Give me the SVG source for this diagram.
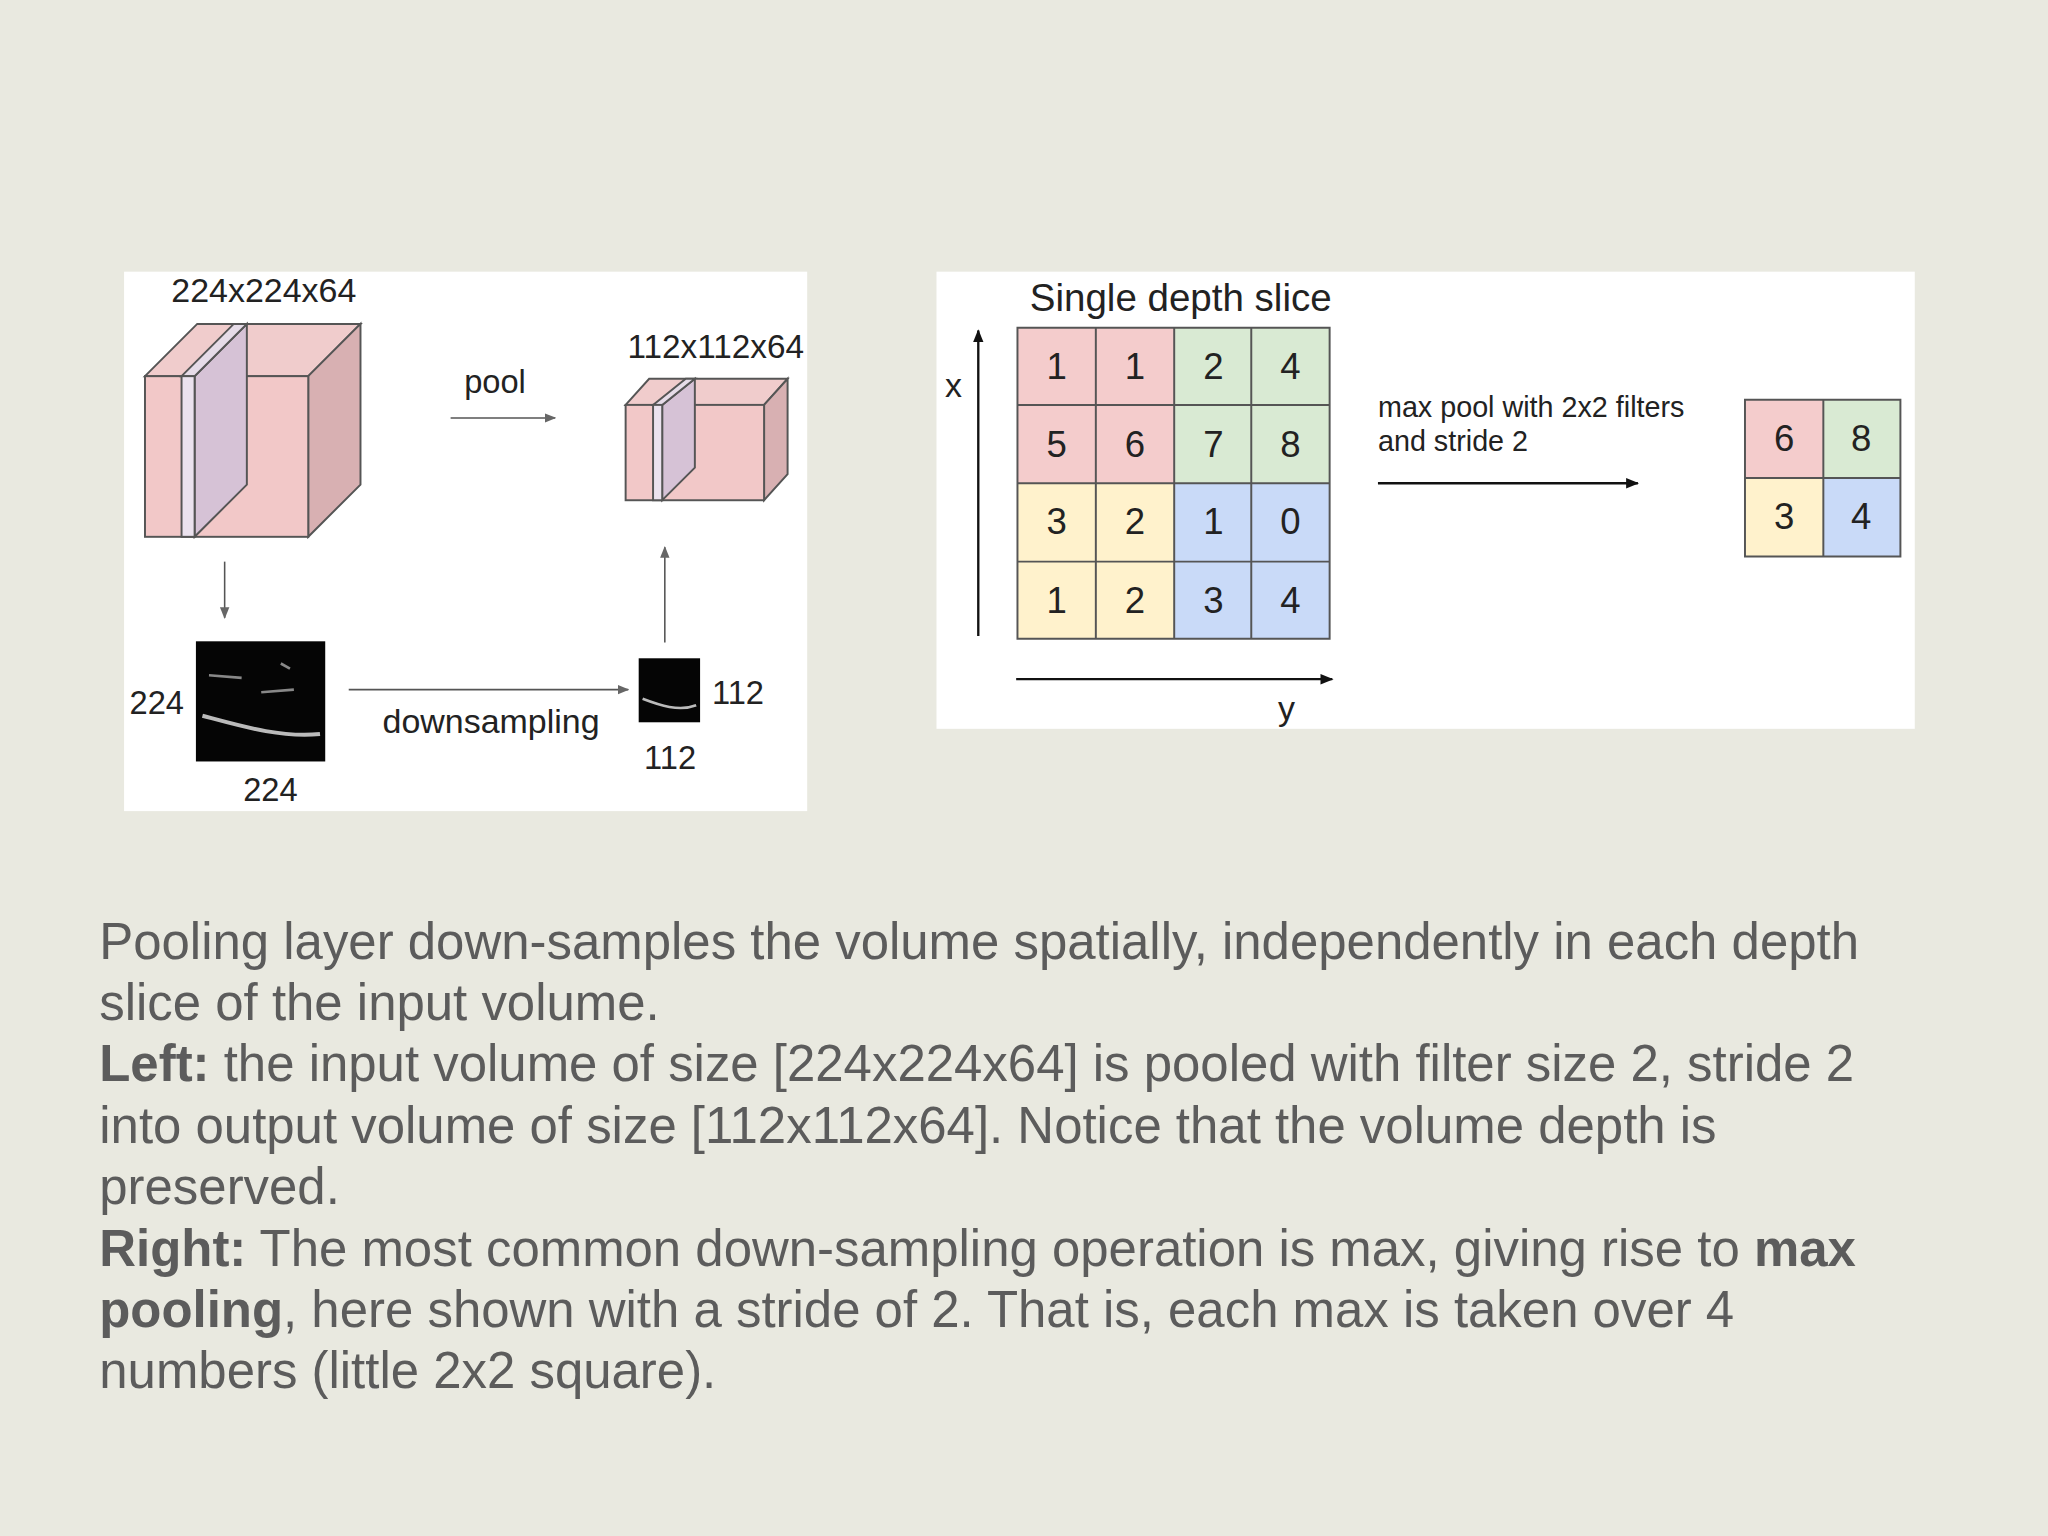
<svg xmlns="http://www.w3.org/2000/svg" width="2048" height="1536" viewBox="0 0 2048 1536">
<defs>
<style>
.t{font-family:"Liberation Sans",Arial,sans-serif;fill:#222}
.n{font-family:"Liberation Sans",Arial,sans-serif;fill:#222;font-size:28px;text-anchor:middle}
.b{font-family:"Liberation Sans",Arial,sans-serif;fill:#5c5c5c;font-size:39px}
.c{stroke:#555;stroke-width:1.5}
.g{stroke:#555;stroke-width:1.2}
</style>
<marker id="ag" viewBox="0 0 10 10" refX="9" refY="5" markerWidth="9" markerHeight="9" markerUnits="userSpaceOnUse" orient="auto"><path d="M0,1 L10,5 L0,9 z" fill="#666"/></marker>
<marker id="ab" viewBox="0 0 10 10" refX="9" refY="5" markerWidth="10" markerHeight="10" markerUnits="userSpaceOnUse" orient="auto"><path d="M0,1 L10,5 L0,9 z" fill="#111"/></marker>
</defs>
<rect width="2048" height="1536" fill="#e9e9e0"/>
<g transform="scale(1.30612)">
<rect x="95" y="208" width="523" height="413" fill="#fff"/>
<rect x="717" y="208" width="749" height="350" fill="#fff"/>

<g id="bigcube">
<text class="t" x="202" y="231" font-size="26" text-anchor="middle">224x224x64</text>
<polygon points="111,288 151,248 276,248 236,288" fill="#f0cccc" class="c"/>
<polygon points="236,288 276,248 276,371 236,411" fill="#d8b0b2" class="c"/>
<rect x="111" y="288" width="125" height="123" fill="#f2c8c8" class="c"/>
<polygon points="149,288 189,248 189,371 149,411" fill="#d6c2d6" class="c"/>
<polygon points="139,288 179,248 189,248 149,288" fill="#e6dce8" class="c"/>
<rect x="139" y="288" width="10" height="123" fill="#ebe2ee" class="c"/>
</g>
<g id="smallcube">
<text class="t" x="548" y="274" font-size="25.5" text-anchor="middle">112x112x64</text>
<polygon points="479,310 497,290 603,290 585,310" fill="#f0cccc" class="c"/>
<polygon points="585,310 603,290 603,363 585,383" fill="#d8b0b2" class="c"/>
<rect x="479" y="310" width="106" height="73" fill="#f2c8c8" class="c"/>
<polygon points="507,310 532,290 532,358 507,383" fill="#d6c2d6" class="c"/>
<polygon points="500,310 525,290 532,290 507,310" fill="#e6dce8" class="c"/>
<rect x="500" y="310" width="7" height="73" fill="#ebe2ee" class="c"/>
</g>
<g id="img224">
<rect x="150" y="491" width="99" height="92" fill="#050505"/>
<path d="M155,548 C185,556 215,565 245,562" stroke="#bbb" stroke-width="3" fill="none"/>
<path d="M160,517 L185,519 M200,530 L225,528 M215,508 L222,512" stroke="#888" stroke-width="2" fill="none"/>
<text class="t" x="120" y="547" font-size="25" text-anchor="middle">224</text>
<text class="t" x="207" y="613" font-size="25" text-anchor="middle">224</text>
</g>
<g id="img112">
<rect x="489" y="504" width="47" height="49" fill="#050505"/>
<path d="M492,535 C505,540 520,545 533,540" stroke="#bbb" stroke-width="2" fill="none"/>
<text class="t" x="565" y="539" font-size="25" text-anchor="middle">112</text>
<text class="t" x="513" y="589" font-size="25" text-anchor="middle">112</text>
</g>
<g id="leftlabels">
<text class="t" x="379" y="301" font-size="25" text-anchor="middle">pool</text>
<text class="t" x="376" y="561" font-size="26" text-anchor="middle">downsampling</text>
</g>

<g id="grid">
<text class="t" x="904" y="238" font-size="29.5" text-anchor="middle">Single depth slice</text>
<rect x="779" y="251" width="120" height="119" fill="#f4cccc"/>
<rect x="899" y="251" width="119" height="119" fill="#d9ead3"/>
<rect x="779" y="370" width="120" height="119" fill="#fff2cc"/>
<rect x="899" y="370" width="119" height="119" fill="#c9daf8"/>
<path d="M779,251 H1018 V489 H779 Z M839,251 V489 M899,251 V489 M958,251 V489 M779,310 H1018 M779,370 H1018 M779,430 H1018" fill="none" stroke="#555" stroke-width="1.5"/>
<text class="n" x="809" y="290">1</text><text class="n" x="869" y="290">1</text><text class="n" x="929" y="290">2</text><text class="n" x="988" y="290">4</text>
<text class="n" x="809" y="350">5</text><text class="n" x="869" y="350">6</text><text class="n" x="929" y="350">7</text><text class="n" x="988" y="350">8</text>
<text class="n" x="809" y="409">3</text><text class="n" x="869" y="409">2</text><text class="n" x="929" y="409">1</text><text class="n" x="988" y="409">0</text>
<text class="n" x="809" y="469">1</text><text class="n" x="869" y="469">2</text><text class="n" x="929" y="469">3</text><text class="n" x="988" y="469">4</text>
<text class="t" x="730" y="304" font-size="26" text-anchor="middle">x</text>
<text class="t" x="985" y="551" font-size="26" text-anchor="middle">y</text>
</g>
<g id="output">
<rect x="1336" y="306" width="60" height="60" fill="#f4cccc"/>
<rect x="1396" y="306" width="59" height="60" fill="#d9ead3"/>
<rect x="1336" y="366" width="60" height="60" fill="#fff2cc"/>
<rect x="1396" y="366" width="59" height="60" fill="#c9daf8"/>
<path d="M1336,306 H1455 V426 H1336 Z M1396,306 V426 M1336,366 H1455" fill="none" stroke="#555" stroke-width="1.5"/>
<text class="n" x="1366" y="345">6</text><text class="n" x="1425" y="345">8</text>
<text class="n" x="1366" y="405">3</text><text class="n" x="1425" y="405">4</text>
</g>
<g id="poolLabel">
<text class="t" x="1055" y="319" font-size="22">max pool with 2x2 filters</text>
<text class="t" x="1055" y="345" font-size="22">and stride 2</text>
</g>

<g id="connectors" fill="none">
<line x1="345" y1="320" x2="425" y2="320" class="g" marker-end="url(#ag)"/>
<line x1="172" y1="430" x2="172" y2="473" class="g" marker-end="url(#ag)"/>
<line x1="267" y1="528" x2="481" y2="528" class="g" marker-end="url(#ag)"/>
<line x1="509" y1="492" x2="509" y2="419" class="g" marker-end="url(#ag)"/>
<line x1="749" y1="487" x2="749" y2="253" stroke="#111" stroke-width="1.8" marker-end="url(#ab)"/>
<line x1="778" y1="520" x2="1020" y2="520" stroke="#111" stroke-width="1.8" marker-end="url(#ab)"/>
<line x1="1055" y1="370" x2="1254" y2="370" stroke="#111" stroke-width="1.8" marker-end="url(#ab)"/>
</g>

<g id="caption">
<text class="b" x="76" y="734">Pooling layer down-samples the volume spatially, independently in each depth</text>
<text class="b" x="76" y="781">slice of the input volume.</text>
<text class="b" x="76" y="828"><tspan font-weight="bold">Left:</tspan> the input volume of size [224x224x64] is pooled with filter size 2, stride 2</text>
<text class="b" x="76" y="875">into output volume of size [112x112x64]. Notice that the volume depth is</text>
<text class="b" x="76" y="922">preserved.</text>
<text class="b" x="76" y="969"><tspan font-weight="bold">Right:</tspan> The most common down-sampling operation is max, giving rise to <tspan font-weight="bold">max</tspan></text>
<text class="b" x="76" y="1016"><tspan font-weight="bold">pooling</tspan>, here shown with a stride of 2. That is, each max is taken over 4</text>
<text class="b" x="76" y="1063">numbers (little 2x2 square).</text>
</g>
</g>
</svg>
